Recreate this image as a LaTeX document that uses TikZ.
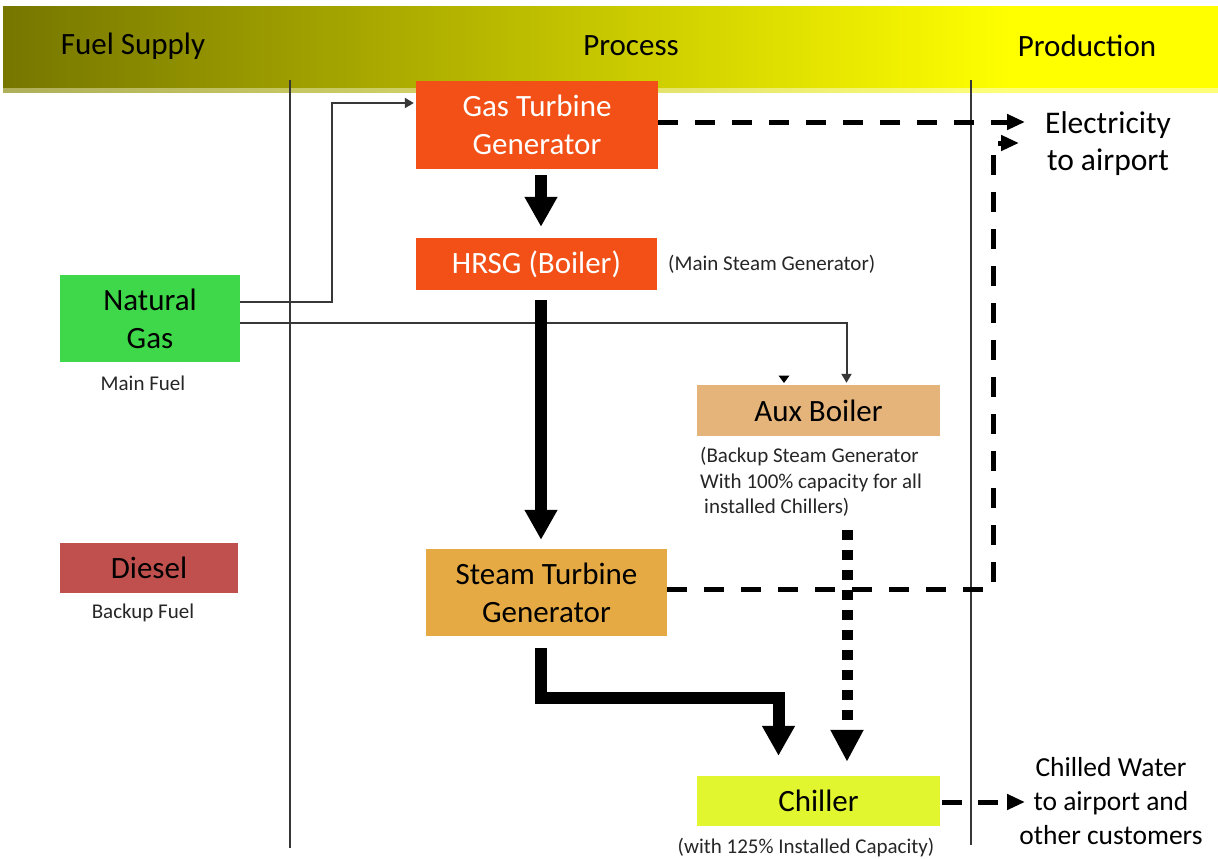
\documentclass[tikz,border=0pt]{standalone}
\usepackage{fontspec}
\setmainfont{Carlito}
\usetikzlibrary{arrows.meta,calc}
\definecolor{hdrL}{RGB}{118,118,0}
\definecolor{hdrR}{RGB}{255,255,0}
\definecolor{hdrLs}{RGB}{175,175,90}
\definecolor{hdrRs}{RGB}{255,255,120}
\definecolor{gtcol}{RGB}{242,80,22}
\definecolor{ngcol}{RGB}{62,216,74}
\definecolor{dicol}{RGB}{192,80,77}
\definecolor{auxcol}{RGB}{229,180,122}
\definecolor{stcol}{RGB}{229,170,68}
\definecolor{chcol}{RGB}{226,246,48}
\definecolor{linecol}{RGB}{55,55,55}
\pgfdeclarehorizontalshading{hdrshade}{100bp}{color(0bp)=(hdrL); color(25bp)=(hdrL); color(66.5bp)=(hdrR); color(100bp)=(hdrR)}
\pgfdeclarehorizontalshading{hdrshadeS}{100bp}{color(0bp)=(hdrLs); color(25bp)=(hdrLs); color(66.5bp)=(hdrRs); color(100bp)=(hdrRs)}
\tikzset{
  box/.style={inner sep=0pt, align=center, font=\fontsize{31}{38}\selectfont, text=black},
  hdrtext/.style={inner sep=0pt, font=\fontsize{31}{36}\selectfont, text=black},
  lbl/.style={inner sep=0pt, align=center, font=\fontsize{31.5}{37}\selectfont, text=black},
  lbl2/.style={inner sep=0pt, align=center, font=\fontsize{27.5}{34}\selectfont, text=black},
  note/.style={inner sep=0pt, font=\fontsize{21}{25.5}\selectfont, text=black!85},
  vline/.style={draw=linecol, line width=1.3pt},
  fuelline/.style={draw=linecol, line width=2pt, -{Triangle[length=9pt,width=10pt]}},
  bigarrow/.style={draw=black, line width=12pt, line join=miter, -{Triangle[length=30pt,width=31pt]}},
  dotarrow/.style={draw=black, line width=11pt, dash pattern=on 10pt off 10pt, -{Triangle[length=32pt,width=31pt]}},
  dasharrow/.style={draw=black, line width=5pt, dash pattern=on 20pt off 17pt, -{Triangle[length=18pt,width=15pt]}},
}
\begin{document}
\begin{tikzpicture}[x=1pt,y=-1pt]
\useasboundingbox (0,0) rectangle (1218,859);
\fill[white] (0,0) rectangle (1218,859);
% header band
\shade[shading=hdrshade] (3,7) rectangle (1218,89);
\shade[shading=hdrshadeS] (3,88) rectangle (1218,92);
\node[hdrtext] (hfuel) at (133,46) {Fuel Supply};
\node[hdrtext] (hproc) at (631,46) {Process};
\node[hdrtext] (hprod) at (1087,46) {Production};
% column dividers
\draw[vline] (290,80) -- (290,848);
\draw[vline] (971,80) -- (971,845);
% boxes
\node[box, fill=gtcol, text=white, minimum width=242pt, minimum height=88pt] (gtg) at (537,125) {Gas Turbine\\Generator};
\node[box, fill=gtcol, text=white, minimum width=241pt, minimum height=52pt] (hrsg) at (536.5,264) {HRSG (Boiler)};
\node[box, fill=ngcol, minimum width=180pt, minimum height=87pt] (ng) at (150,318.5) {Natural\\Gas};
\node[box, fill=dicol, minimum width=178pt, minimum height=50pt] (diesel) at (149,568) {Diesel};
\node[box, fill=auxcol, minimum width=243pt, minimum height=51pt] (aux) at (818.5,410.5) {Aux Boiler};
\node[box, fill=stcol, minimum width=241pt, minimum height=87pt] (stg) at (546.5,592.5) {Steam Turbine\\Generator};
\node[box, fill=chcol, minimum width=243pt, minimum height=50pt] (chiller) at (818.5,801) {Chiller};
% notes
\node[note] (mainfuel) at (143,383) {Main Fuel};
\node[note] (backupfuel) at (143,613) {Backup Fuel};
\node[note, anchor=west] (mainsteam) at (668,264) {(Main Steam Generator)};
\node[note, anchor=north west, align=left] (auxnote) at (700,447) {(Backup Steam Generator\\With 100\% capacity for all\\\hspace*{4pt}installed Chillers)};
\node[note] (chnote) at (806,848) {(with 125\% Installed Capacity)};
\node[lbl] (elec) at (1108,143.5) {Electricity\\to airport};
\node[lbl2] (chw) at (1111,801) {Chilled Water\\to airport and\\other customers};
% fuel lines
\draw[fuelline] ($(ng.east)+(0,-17)$) -| ($(gtg.west)+(-84,-22)$) -- ($(gtg.west)+(-2,-22)$);
\draw[fuelline] ($(ng.east)+(0,4)$) -| ($(aux.north)+(28,-2)$);
\fill[black] (778.5,375.5) -- (789.5,375.5) -- (784,383) -- cycle;
% thick steam arrows
\draw[bigarrow] ($(gtg.south)+(4,6)$) -- ($(hrsg.north)+(4.5,-11)$);
\draw[bigarrow] ($(hrsg.south)+(4.5,10)$) -- ($(stg.north)+(-5.5,-9)$);
\draw[bigarrow] ($(stg.south)+(-5.5,12)$) -- ++(0,50) -| ($(chiller.north)+(-40,-20)$);
\draw[dotarrow] ($(aux.south)+(28.5,94)$) -- ($(chiller.north)+(28.5,-14)$);
% electricity
\coordinate (elecA) at (1025,122);
\coordinate (bend) at (993,589);
\coordinate (elecB) at (1019,143);
\coordinate (chwTip) at (1025,802);
\draw[dasharrow] ($(gtg.east)+(0,-3)$) -- (elecA);
\draw[dasharrow] ($(stg.east)+(0,-3.5)$) -- (bend) |- (elecB);
\draw[dasharrow, dash pattern=on 20pt off 16pt] ($(chiller.east)+(2,1)$) -- (chwTip);
\end{tikzpicture}
\end{document}
